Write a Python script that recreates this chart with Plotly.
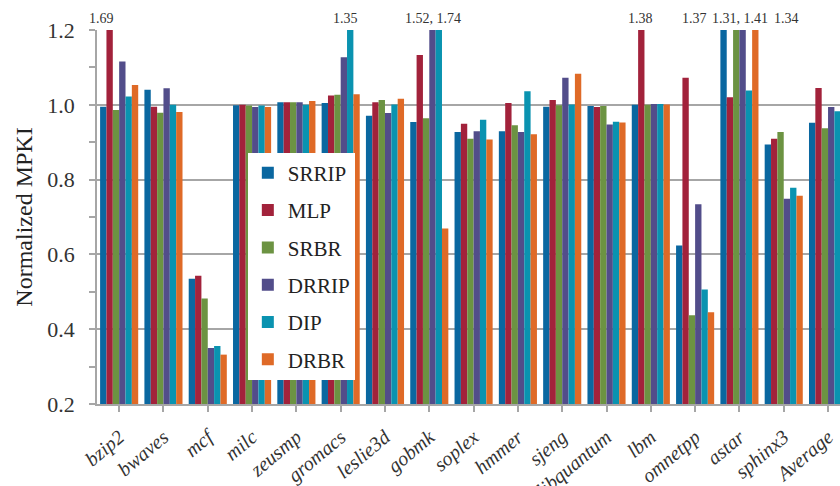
import plotly.graph_objects as go

benchmarks = ["bzip2", "bwaves", "mcf", "milc", "zeusmp", "gromacs", "leslie3d", "gobmk",
              "soplex", "hmmer", "sjeng", "libquantum", "lbm", "omnetpp", "astar", "sphinx3", "Average"]

srrip = [0.995, 1.040, 0.535, 0.999, 1.007, 1.005, 0.971, 0.954, 0.927, 0.929, 0.995, 0.997, 1.000, 0.624, 1.310, 0.894, 0.952]
mlp   = [1.690, 0.995, 0.543, 1.000, 1.007, 1.025, 1.007, 1.133, 0.949, 1.005, 1.013, 0.994, 1.380, 1.072, 1.020, 0.909, 1.045]
srbr  = [0.986, 0.979, 0.482, 0.998, 1.007, 1.027, 1.013, 0.964, 0.909, 0.945, 0.999, 0.997, 1.000, 0.437, 1.300, 0.927, 0.937]
drrip = [1.116, 1.044, 0.350, 0.994, 1.007, 1.127, 0.978, 1.520, 0.929, 0.927, 1.072, 0.947, 1.002, 0.734, 1.330, 0.749, 0.994]
dip   = [1.022, 1.000, 0.355, 0.998, 1.000, 1.350, 1.001, 1.740, 0.960, 1.036, 1.001, 0.955, 1.002, 0.506, 1.038, 0.778, 0.983]
drbr  = [1.053, 0.981, 0.332, 0.994, 1.010, 1.028, 1.016, 0.669, 0.907, 0.921, 1.083, 0.953, 1.001, 0.445, 1.410, 0.757, 0.970]

series_names = ["SRRIP", "MLP", "SRBR", "DRRIP", "DIP", "DRBR"]
series_values = [srrip, mlp, srbr, drrip, dip, drbr]
series_colors = ["#0A67A0", "#A2223B", "#6C9342", "#524D8A", "#0A93B0", "#DF6A27"]

# Off-scale values written above the clipped bars: (benchmark index, offset, text)
overflow_labels = [
    (0, -0.39, "1.69"),
    (5, 0.11, "1.35"),
    (7, 0.09, "1.52, 1.74"),
    (12, -0.24, "1.38"),
    (13, -0.01, "1.37"),
    (14, 0.02, "1.31, 1.41"),
    (15, 0.07, "1.34"),
]

serif = "Liberation Serif"
grid_gray = "#A6A6A6"

fig = go.Figure()
for name, vals, col in zip(series_names, series_values, series_colors):
    fig.add_trace(go.Bar(
        x=list(range(len(benchmarks))), y=vals, name=name, legendgroup=name,
        marker=dict(color=col, line=dict(width=0)),
    ))

for idx, off, txt in overflow_labels:
    fig.add_annotation(x=idx + off, y=1.2, xref="x", yref="y", text=txt, showarrow=False,
                       yanchor="bottom", yshift=2, font=dict(family=serif, size=14, color="#333333"))

fig.update_layout(
    width=840, height=486,
    margin=dict(l=97, r=0, t=30, b=82, autoexpand=False),
    paper_bgcolor="white", plot_bgcolor="white",
    barmode="group", bargap=0.14, bargroupgap=0,
    font=dict(family=serif, color="#333333"),
    showlegend=True,
    legend=dict(
        x=0.203, y=0.672, xanchor="left", yanchor="top",
        bgcolor="white", borderwidth=0,
        font=dict(family=serif, size=21, color="#222222"),
        tracegroupgap=7, itemwidth=30, traceorder="grouped",
    ),
    xaxis=dict(
        range=[-0.5, 16.27], automargin=False,
        tickmode="array", tickvals=list(range(len(benchmarks))), ticktext=benchmarks,
        tickangle=-40,
        tickfont=dict(family=serif, size=20, color="#333333", style="italic"),
        ticks="outside", tickson="boundaries", ticklen=6, tickcolor=grid_gray, tickwidth=1.5,
        ticklabelstandoff=6,
        showline=True, linecolor=grid_gray, linewidth=1.5,
        showgrid=False, zeroline=False,
    ),
    yaxis=dict(
        range=[0.2, 1.2], dtick=0.2, tick0=0.2, tickformat=".1f", automargin=False,
        tickfont=dict(family=serif, size=22, color="#333333"),
        ticks="outside", ticklen=6, tickcolor=grid_gray, tickwidth=1.5,
        minor=dict(dtick=0.1, ticks="outside", ticklen=6, tickcolor=grid_gray, showgrid=False),
        showline=True, linecolor=grid_gray, linewidth=1.5,
        showgrid=True, gridcolor=grid_gray, gridwidth=1.5, zeroline=False,
        ticklabelstandoff=10,
        title=dict(text="Normalized MPKI", font=dict(family=serif, size=24, color="#222222"), standoff=8),
    ),
)

fig.write_html("out.html")
